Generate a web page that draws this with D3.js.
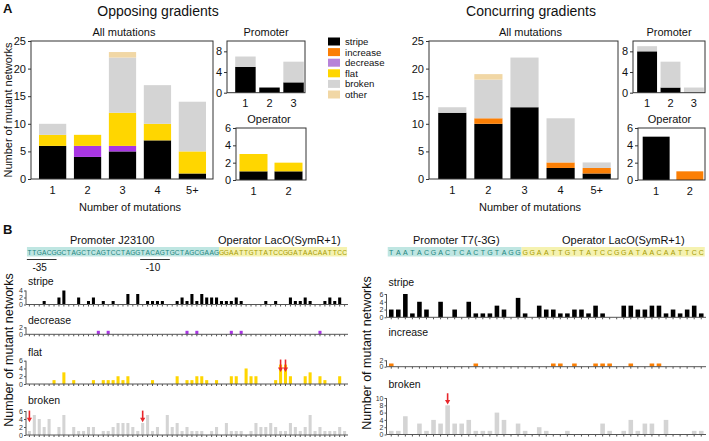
<!DOCTYPE html>
<html><head><meta charset="utf-8">
<script src="https://cdn.jsdelivr.net/npm/d3@7"></script>
<style>body{margin:0;background:#fff}svg{display:block;font-family:"Liberation Sans",Arial,sans-serif}</style>
</head><body><svg id="c" width="709" height="441"></svg>
<script>
// ---------- DATA ----------
const seriesKeys = ['stripe','increase','decrease','flat','broken','other'];
const mutCats = ['1','2','3','4','5+'];
const promCats = ['1','2','3'];
const operCats = ['1','2'];

const oppAllStripe   = [6,4,5,7,1];
const oppAllDecrease = [0,2,1,0,0];
const oppAllFlat     = [2,2,6,3,4];
const oppAllBroken   = [2,0,10,7,9];
const oppAllOther    = [0,0,1,0,0];
const oppPromStripe  = [5,1,2];
const oppPromBroken  = [2,0,4];
const oppOperStripe  = [1,1];
const oppOperFlat    = [2,1];

const conAllStripe   = [12,10,13,2,1];
const conAllIncrease = [0,1,0,1,1];
const conAllBroken   = [1,7,9,8,1];
const conAllOther    = [0,1,0,0,0];
const conPromStripe  = [8,1,0];
const conPromBroken  = [1,5,1];
const conOperStripe  = [5,0];
const conOperIncrease= [0,1];

const ticksAll  = [0,5,10,15,20,25];
const ticksProm = [0,4,8];
const ticksOper = [0,2,4,6];

// Panel B: per-position counts
const leftPromoterSeq = 'TTGACGGCTAGCTCAGTCCTAGGTACAGTGCTAGCGAAG';
const leftOperatorSeq = 'GGAATTGTTATCCGGATAACAATTCC';
const rightPromoterSeq = 'TAATACGACTCACTGTAGG';
const rightOperatorSeq = 'GGAATTGTTATCCGGATAACAATTCC';

const leftStripe = [0,0,0,1,0,0,2,4,0,0, 2,0,1,2,0,1,0,1,0,0, 3,0,3,0,1,1,1,1,0,0, 1,2,1,3,1,3,2,2,2,1, 1,1,2,1,0,0,0,0,1,0, 1,0,0,2,1,1,2,1,0,0, 1,2,1,2,0];
const leftDecrease = [0,0,0,0,0,0,0,0,0,0, 0,0,0,0,1,0,1,0,0,0, 0,0,0,0,0,0,0,0,0,0, 0,0,1,0,1,0,0,0,0,0, 0,1,0,1,0,0,0,0,0,0, 0,0,0,0,0,0,0,0,0,1, 0,0,0,0,0];
const leftFlat = [0,0,0,0,0,1,0,3,0,1, 0,0,0,1,0,1,1,1,2,1, 2,0,0,0,0,1,0,0,0,0, 2,0,1,1,2,2,1,0,1,0, 0,2,2,0,4,2,2,0,0,0, 1,5,5,2,0,0,2,3,0,2, 1,0,0,2,0];
const leftBroken = [1,5,4,2,4,0,2,5,0,2, 1,1,2,2,0,1,1,2,3,3, 3,2,1,3,5,1,2,0,5,2, 3,1,2,1,1,1,0,1,2,0, 3,1,1,1,0,1,3,2,2,3, 2,1,1,3,2,1,2,5,1,2, 1,1,1,2,1];

const rightStripe = [2,2,6,1,4,2,0,4,0,2, 0,4,1,1,1,3,2,0,5,1, 0,3,2,2,1,1,2,2,1,3, 1,0,0,3,3,2,2,3,3,1, 2,1,2,3,1];
const rightIncrease = [1,0,0,0,0,0,0,0,0,0, 0,0,1,0,0,0,0,0,0,0, 0,0,0,1,1,0,1,0,0,1, 1,1,0,0,1,0,0,1,1,0, 0,0,0,0,0];
const rightBroken = [1,1,5,0,3,1,4,3,8,3, 3,4,1,1,1,6,4,0,3,1, 0,2,1,0,0,1,0,0,0,0, 3,1,0,1,4,1,3,3,0,4, 0,0,0,1,1];

// arrows: [position index, tip value, tail value]
const leftFlatArrows   = [[51,3.1,6.3],[52,3.1,6.3]];
const leftBrokenArrows = [[0,3.2,6.1],[23,3.2,6.1]];
const rightBrokenArrows= [[8,8.2,11.3]];

// ---------- STYLE ----------
const C = {stripe:'#000000', increase:'#fb7f05', decrease:'#a936e3', flat:'#ffd600', broken:'#d4d4d4', other:'#f1d7a5'};
const legendC = Object.assign({}, C, {decrease:'#b783d9'});
const AX = '#333';
const fmt = d3.format('d');
const svg = d3.select('#c');

function txt(x,y,s,size,anchor,extra){
  const t = svg.append('text').attr('x',x).attr('y',y).text(s).attr('font-size',size).attr('text-anchor',anchor||'middle').attr('fill','#111');
  if(extra) extra(t);
  return t;
}

// ---------- PANEL A ----------
function stacked(p){
  const g = svg.append('g');
  const rows = p.cats.map((c,i)=>{const r={cat:c}; seriesKeys.forEach(k=>r[k]=p.series[k]?p.series[k][i]:0); return r;});
  const stack = d3.stack().keys(seriesKeys)(rows);
  const [fx0,fy0,fx1,fy1] = p.frame;
  const x = d3.scaleBand().domain(p.cats).range(p.band).paddingInner(p.pi).paddingOuter(p.po);
  const y = d3.scaleLinear().domain([0,p.yMax]).range([fy1,fy0]);
  g.selectAll('g.layer').data(stack).join('g').attr('fill',d=>C[d.key])
    .selectAll('rect').data(d=>d).join('rect')
    .attr('x',d=>x(d.data.cat)).attr('width',x.bandwidth())
    .attr('y',d=>y(d[1])).attr('height',d=>Math.max(0,y(d[0])-y(d[1])));
  g.append('rect').attr('x',fx0).attr('y',fy0).attr('width',fx1-fx0).attr('height',fy1-fy0)
    .attr('fill','none').attr('stroke',AX).attr('stroke-width',1);
  const ya = g.append('g').attr('transform',`translate(${fx0},0)`)
    .call(d3.axisLeft(y).tickValues(p.yTicks).tickFormat(fmt).tickSize(3).tickPadding(2));
  ya.select('.domain').remove();
  ya.selectAll('line').attr('stroke',AX);
  ya.selectAll('text').attr('font-size',11).attr('font-family','Liberation Sans, Arial').attr('fill','#111');
  const xa = g.append('g').attr('transform',`translate(0,${fy1})`)
    .call(d3.axisBottom(x).tickSize(0).tickPadding(7));
  xa.select('.domain').remove();
  xa.selectAll('text').attr('font-size',11).attr('font-family','Liberation Sans, Arial').attr('fill','#111');
  txt((fx0+fx1)/2 + (p.titleDx||0), fy0-5, p.title, 11);
}

stacked({cats:mutCats, series:{stripe:oppAllStripe,decrease:oppAllDecrease,flat:oppAllFlat,broken:oppAllBroken,other:oppAllOther},
  frame:[31,41,213,179], band:[32,213], pi:0.22, po:0.2, yMax:25, yTicks:ticksAll, title:'All mutations', titleDx:2});
stacked({cats:promCats, series:{stripe:oppPromStripe,broken:oppPromBroken},
  frame:[227,41,305,92.7], band:[234,305], pi:0.15, po:0.05, yMax:10, yTicks:ticksProm, title:'Promoter'});
stacked({cats:operCats, series:{stripe:oppOperStripe,flat:oppOperFlat},
  frame:[236,128,306,180], band:[236,306], pi:0.2, po:0.1, yMax:6, yTicks:ticksOper, title:'Operator', titleDx:-2});

stacked({cats:mutCats, series:{stripe:conAllStripe,increase:conAllIncrease,broken:conAllBroken,other:conAllOther},
  frame:[429,41,618,179], band:[431,618], pi:0.22, po:0.2, yMax:25, yTicks:ticksAll, title:'All mutations', titleDx:7});
stacked({cats:promCats, series:{stripe:conPromStripe,broken:conPromBroken},
  frame:[633,41,705,92.7], band:[636,705], pi:0.15, po:0.05, yMax:10, yTicks:ticksProm, title:'Promoter'});
stacked({cats:operCats, series:{stripe:conOperStripe,increase:conOperIncrease},
  frame:[638,128,705,180], band:[640,706], pi:0.2, po:0.08, yMax:6, yTicks:ticksOper, title:'Operator', titleDx:-2});

// titles
txt(3,13,'A',13,'start',t=>t.attr('font-weight','bold'));
txt(158,16,'Opposing gradients',14);
txt(531,16,'Concurring gradients',14);
txt(130,211,'Number of mutations',11);
txt(530,211,'Number of mutations',11);
txt(0,0,'Number of mutant networks',11,'middle',t=>t.attr('transform','translate(12,110) rotate(-90)'));

// legend
const leg = svg.append('g');
seriesKeys.forEach((k,i)=>{
  const cy = 41.5 + i*10.6;
  leg.append('rect').attr('x',328).attr('y',cy-4).attr('width',12).attr('height',8).attr('fill',legendC[k]);
  leg.append('text').attr('x',345).attr('y',cy+3.4).text(k).attr('font-size',9.6).attr('fill','#111');
});

// ---------- PANEL B ----------
txt(3,234,'B',13,'start',t=>t.attr('font-weight','bold'));

function seqBlock(x, promSeq, operSeq, fs){
  const seq = (promSeq+operSeq).split('');
  const g = svg.append('g');
  const np = promSeq.length;
  const half = x.step()/2;
  const cx = i=>x(i)+x.bandwidth()/2;
  g.append('rect').attr('x',cx(0)-half).attr('y',247).attr('width',cx(np-1)-cx(0)+2*half).attr('height',9.5).attr('fill','#bfe6e2');
  g.append('rect').attr('x',cx(np)-half).attr('y',247).attr('width',cx(seq.length-1)-cx(np)+2*half).attr('height',9.5).attr('fill','#f5f2b0');
  g.selectAll('text').data(seq).join('text')
    .attr('x',(d,i)=>cx(i)).attr('y',254.8).attr('text-anchor','middle')
    .attr('font-size',fs).attr('fill',(d,i)=>i<np?'#1b8580':'#a69a00').text(d=>d);
}

function seqPanel(p){
  const g = svg.append('g');
  const y = d3.scaleLinear().domain([0,p.yMax]).range([p.y0,p.y1]);
  const x = p.x;
  g.selectAll('rect').data(p.values).join('rect')
    .attr('x',(d,i)=>x(i)).attr('width',x.bandwidth())
    .attr('y',d=>y(d)).attr('height',d=>y(0)-y(d)).attr('fill',p.color);
  const xa = g.append('g').attr('transform',`translate(0,${p.y0})`)
    .call(d3.axisBottom(x).tickSize(2).tickFormat(''));
  xa.select('.domain').attr('stroke','#555').attr('d',`M${x.range()[0]},0H${x.range()[1]}`);
  xa.selectAll('line').attr('stroke','#555');
  const ya = g.append('g').attr('transform',`translate(${x.range()[0]},0)`)
    .call(d3.axisLeft(y).tickValues(p.ticks).tickFormat(fmt).tickSize(2).tickPadding(1));
  ya.select('.domain').attr('stroke','#555').attr('d',`M0,${y(0)}V${y(p.yMax)}`);
  ya.selectAll('line').attr('stroke','#555');
  ya.selectAll('text').attr('font-size',7).attr('fill','#333').attr('font-family','Liberation Sans, Arial');
  g.append('text').attr('x',x.range()[0]+2).attr('y',p.labelY).text(p.label).attr('font-size',10.5).attr('fill','#111');
  (p.arrows||[]).forEach(([idx,tip,tail])=>{
    const cx = x(idx)+x.bandwidth()/2, yt=y(tip), ys=y(tail);
    g.append('line').attr('x1',cx).attr('x2',cx).attr('y1',ys).attr('y2',yt-3.5).attr('stroke','#e8262b').attr('stroke-width',1.6);
    g.append('path').attr('d',`M${cx-2.6},${yt-4.5}L${cx+2.6},${yt-4.5}L${cx},${yt}Z`).attr('fill','#e8262b');
  });
}

// left side
const xL = d3.scaleBand().domain(d3.range(leftStripe.length)).range([26,348]).padding(0.38);
seqBlock(xL, leftPromoterSeq, leftOperatorSeq, 6.6);
txt(70,244,'Promoter J23100',11,'start');
txt(218,244,'Operator LacO(SymR+1)',11,'start');
// -35 / -10 marks
[[0,5,'-35'],[23,28,'-10']].forEach(([a,b,l])=>{
  const x0 = xL(a)-1, x1 = xL(b)+xL.bandwidth()+1;
  svg.append('line').attr('x1',x0).attr('x2',x1).attr('y1',259.5).attr('y2',259.5).attr('stroke','#333').attr('stroke-width',1);
  txt((x0+x1)/2 - 2,271,l,10);
});
seqPanel({x:xL, values:leftStripe, yMax:4, ticks:[0,2,4], y0:304.5, y1:290.5, color:C.stripe, label:'stripe', labelY:285});
seqPanel({x:xL, values:leftDecrease, yMax:2, ticks:[0,2], y0:334.3, y1:327.3, color:C.decrease, label:'decrease', labelY:324});
seqPanel({x:xL, values:leftFlat, yMax:6, ticks:[0,2,4,6], y0:384, y1:360.7, color:C.flat, label:'flat', labelY:356, arrows:leftFlatArrows});
seqPanel({x:xL, values:leftBroken, yMax:6, ticks:[0,2,4,6], y0:435, y1:411, color:C.broken, label:'broken', labelY:404, arrows:leftBrokenArrows});
txt(0,0,'Number of mutant networks',12.5,'middle',t=>t.attr('transform','translate(13,350) rotate(-90)'));

// right side
const xR = d3.scaleBand().domain(d3.range(rightStripe.length)).range([386.5,706]).padding(0.35);
seqBlock(xR, rightPromoterSeq, rightOperatorSeq, 7);
txt(413,244,'Promoter T7(-3G)',11,'start');
txt(562,244,'Operator LacO(SymR+1)',11,'start');
seqPanel({x:xR, values:rightStripe, yMax:6, ticks:[0,2,4,6], y0:317.3, y1:294, color:C.stripe, label:'stripe', labelY:285.5});
seqPanel({x:xR, values:rightIncrease, yMax:2, ticks:[0,2], y0:366.7, y1:360.3, color:C.increase, label:'increase', labelY:335.5});
seqPanel({x:xR, values:rightBroken, yMax:10, ticks:[0,2,4,6,8,10], y0:434.5, y1:398, color:C.broken, label:'broken', labelY:387.5, arrows:rightBrokenArrows});
txt(0,0,'Number of mutant networks',12.5,'middle',t=>t.attr('transform','translate(371,353) rotate(-90)'));
</script></body></html>
